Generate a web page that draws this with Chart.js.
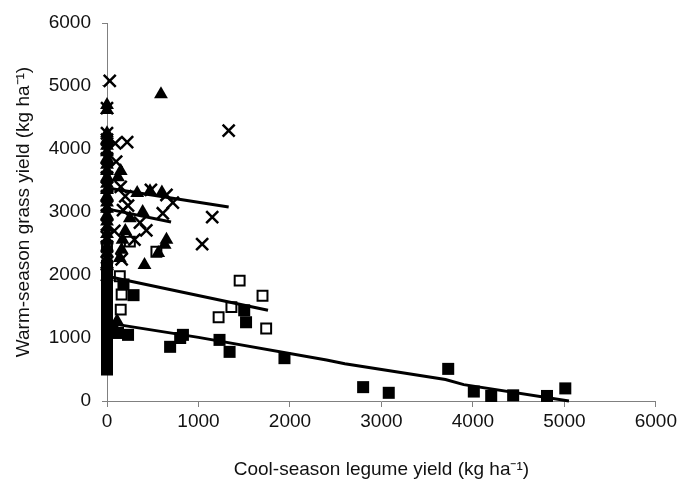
<!DOCTYPE html>
<html>
<head>
<meta charset="utf-8">
<script src="https://cdn.jsdelivr.net/npm/chart.js@4/dist/chart.umd.min.js"></script>
<style>
  html, body { margin: 0; padding: 0; background: #fff; }
  #wrap { width: 680px; height: 488px; }
</style>
</head>
<body>
<div id="wrap"><canvas id="yieldChart" width="680" height="488"></canvas></div>
<script>
// [cool-season legume yield, warm-season grass yield] in kg/ha
const filledSquares = [
  [0, 500], [0, 560], [0, 630], [0, 700], [0, 770], [0, 840], [0, 910], [0, 980],
  [0, 1050], [0, 1120], [0, 1190], [0, 1260], [0, 1330], [0, 1400], [0, 1470],
  [0, 1540], [0, 1610], [0, 1680], [0, 1750], [0, 1820], [0, 1890], [0, 1960],
  [0, 2030], [0, 2100],
  [60, 1150], [120, 1080], [230, 1050], [180, 1850], [290, 1680], [690, 860],
  [800, 1000], [830, 1050], [1230, 970], [1340, 780], [1500, 1440], [1520, 1250],
  [1940, 680], [2800, 220], [3080, 130], [3730, 510], [4010, 150], [4200, 80],
  [4440, 90], [4810, 80], [5010, 200]
];
const openSquares = [
  [0, 1700], [0, 1900], [0, 2150], [0, 2450],
  [150, 1450], [160, 1690], [140, 1980], [250, 2530], [540, 2370], [1220, 1330],
  [1360, 1490], [1450, 1910], [1700, 1670], [1740, 1150]
];
const triangles = [
  [0, 2150], [0, 2250], [0, 2350], [0, 2450], [0, 2550], [0, 2650], [0, 2750], [0, 2850],
  [0, 2950], [0, 3050], [0, 3150], [0, 3250], [0, 3350], [0, 3450], [0, 3550],
  [0, 3650], [0, 3750], [0, 3850], [0, 3950], [0, 4050], [0, 4150], [0, 4250],
  [0, 4620], [0, 4700],
  [110, 1270], [140, 2270], [170, 2560], [160, 2400], [120, 3550], [150, 3650],
  [330, 3300], [390, 3000], [410, 2160], [470, 3330], [560, 2350], [600, 3310],
  [630, 2480], [650, 2560], [590, 4870], [200, 2700], [250, 2900]
];
const crosses = [
  [0, 2000], [0, 2200], [0, 2450], [0, 2600], [0, 2800], [0, 2950], [0, 3100], [0, 3250],
  [0, 3400], [0, 3550], [0, 3700], [0, 3850], [0, 4000], [0, 4150], [0, 4250],
  [0, 4650], [30, 5080],
  [90, 4090], [220, 4110], [100, 3800], [175, 3030], [230, 3100], [300, 2560],
  [360, 2830], [430, 2710], [480, 3350], [610, 2980], [650, 3270], [720, 3150],
  [1040, 2490], [1150, 2920], [1330, 4290], [150, 3400], [200, 3250], [80, 2700], [160, 2250]
];

// fitted lines
const fitFilledSquares = [[0, 1240], [1000, 1010], [2400, 650], [2600, 590], [3700, 340], [3900, 260], [5050, 0]];
const fitOpenSquares = [[0, 1980], [1760, 1440]];
const fitTriangles = [[0, 3050], [700, 2840]];
const fitCrosses = [[0, 3380], [1330, 3080]];

const xTicks = [0, 1000, 2000, 3000, 4000, 5000, 6000];
const yTicks = [0, 1000, 2000, 3000, 4000, 5000, 6000];

const toXY = arr => arr.map(p => ({ x: p[0], y: p[1] }));
const fontFam = '"Liberation Sans", Arial, sans-serif';

function fitLine(points) {
  return {
    data: toXY(points),
    showLine: true,
    borderColor: '#000',
    borderWidth: 3,
    pointRadius: 0,
    tension: 0,
    clip: false,
    order: 0
  };
}

new Chart(document.getElementById('yieldChart'), {
  type: 'scatter',
  data: {
    datasets: [
      { data: toXY(filledSquares), pointStyle: 'rect', pointRadius: 8.5, backgroundColor: '#000', borderColor: '#000', borderWidth: 0, clip: false, order: 4 },
      { data: toXY(openSquares), pointStyle: 'rect', pointRadius: 7, backgroundColor: '#fff', borderColor: '#000', borderWidth: 2, clip: false, order: 5 },
      { data: toXY(triangles), pointStyle: 'triangle', pointRadius: 8, backgroundColor: '#000', borderColor: '#000', borderWidth: 0, clip: false, order: 2 },
      { data: toXY(crosses), pointStyle: 'crossRot', pointRadius: 8.5, backgroundColor: '#000', borderColor: '#000', borderWidth: 2.5, clip: false, order: 1 },
      fitLine(fitFilledSquares),
      fitLine(fitOpenSquares),
      fitLine(fitTriangles),
      fitLine(fitCrosses)
    ]
  },
  options: {
    responsive: false,
    animation: false,
    layout: { padding: { top: 23, right: 22, bottom: 0, left: 0 } },
    plugins: { legend: { display: false }, tooltip: { enabled: false } },
    scales: {
      x: {
        type: 'linear',
        min: 0, max: 6000,
        afterBuildTicks: s => { s.ticks = xTicks.map(v => ({ value: v })); },
        afterFit: s => { s.height = 87; },
        grid: { display: true, drawOnChartArea: false, drawTicks: true, tickLength: 6, color: '#808080' },
        border: { display: true, color: '#808080', width: 1 },
        ticks: { color: '#111', font: { family: fontFam, size: 19 }, padding: 3, maxRotation: 0, callback: v => String(v) },
        title: { display: true, text: 'Cool-season legume yield (kg ha\u207B\u00B9)', color: '#111', font: { family: fontFam, size: 19 }, padding: { bottom: 7 } }
      },
      y: {
        type: 'linear',
        min: 0, max: 6000,
        afterBuildTicks: s => { s.ticks = yTicks.map(v => ({ value: v })); },
        afterFit: s => { s.width = 107; },
        grid: { display: true, drawOnChartArea: false, drawTicks: true, tickLength: 5, color: '#808080' },
        border: { display: true, color: '#808080', width: 1 },
        ticks: { color: '#111', font: { family: fontFam, size: 19 }, padding: 11, callback: v => String(v) },
        title: { display: true, text: 'Warm-season grass yield (kg ha\u207B\u00B9)', color: '#111', font: { family: fontFam, size: 19 }, padding: { top: 12 } }
      }
    }
  }
});
</script>
</body>
</html>
